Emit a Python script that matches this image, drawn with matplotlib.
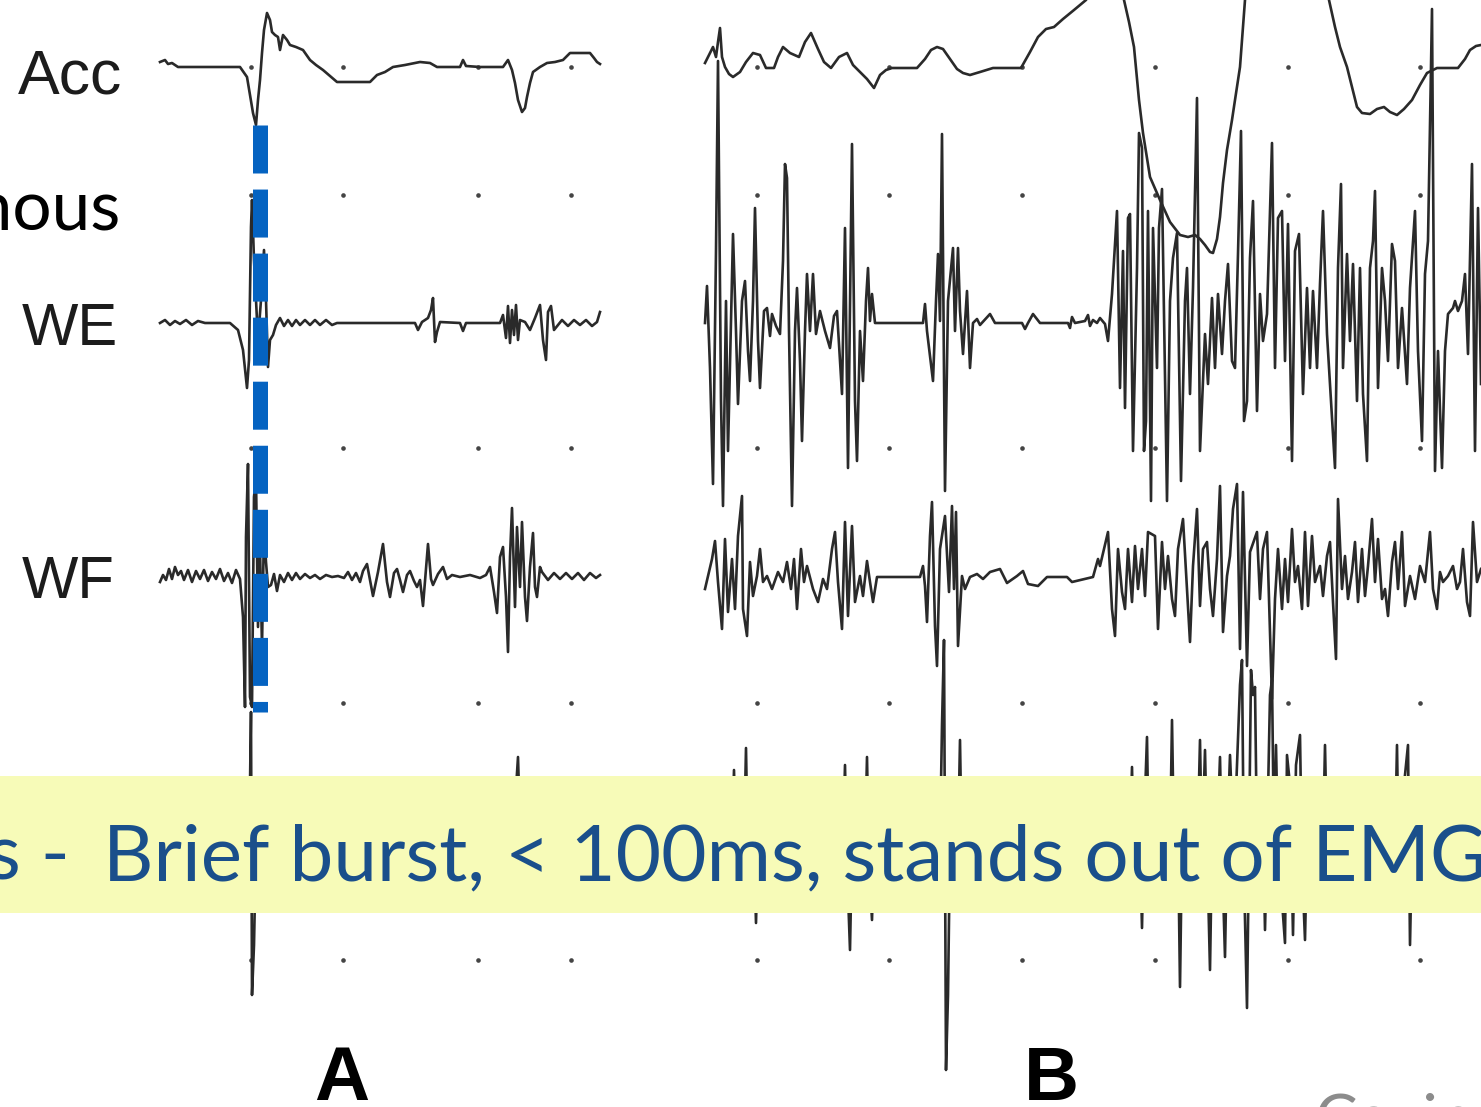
import matplotlib
matplotlib.use("Agg")
import matplotlib.pyplot as plt
from matplotlib.patches import Rectangle

W, H = 1481, 1107

# ---------------- data: (time, amplitude) samples ----------------
# Panel A
acc_a = [(160,5),(165,7),(168,3),(172,4),(178,0),(200,0),(240,0),(247,-10),(250,-28),(253,-46),
         (256,-58),(258,-33),(260,-13),(262,14),(264,37),(267,54),(270,47),(272,35),(275,32),(278,30),
         (280,17),(283,32),(287,27),(290,22),(296,20),(303,17),(310,7),(316,2),(323,-3),(330,-9),
         (337,-15),(350,-15),(370,-15),(377,-8),(385,-5),(393,0),(405,2),(420,5),(430,4),(437,0),
         (460,0),(463,7),(466,1),(480,0),(503,0),(508,7),(512,-3),(515,-16),(518,-33),(522,-45),
         (525,-41),(527,-30),(530,-16),(533,-5),(540,0),(547,4),(555,5),(563,7),(570,14),(580,14),
         (590,14),(594,9),(597,5),(600,3)]

we_a = [(160,0),(165,3),(170,-2),(175,2),(180,-1),(186,3),(192,-2),(198,2),(205,0),(230,0),(238,-7),
        (243,-27),(247,-65),(249,-37),(251,96),(252,123),(254,63),(256,23),(258,-17),(261,23),(264,73),
        (266,23),(268,-44),(270,-17),(273,-12),(276,-2),(280,5),(284,-3),(288,3),(292,-3),(296,3),
        (300,-2),(305,3),(310,-2),(315,3),(320,-2),(326,3),(332,-2),(337,0),(415,0),(418,-7),(422,1),
        (428,5),(431,13),(433,25),(435,-19),(437,-9),(440,1),(460,0),(463,-8),(466,0),(500,0),(503,8),
        (506,-15),(508,17),(510,-20),(512,13),(514,-12),(516,18),(518,-17),(520,3),(525,1),(530,-7),
        (535,5),(540,18),(543,-17),(546,-37),(548,11),(551,17),(554,-7),(558,-2),(562,3),(568,-3),
        (574,3),(580,-2),(586,3),(592,-3),(597,1),(600,11)]

wf_a = [(160,-5),(163,2),(166,-3),(169,8),(172,-2),(175,10),(178,2),(181,6),(184,-3),(188,7),(192,-5),
        (196,6),(200,-2),(204,7),(208,-4),(212,5),(216,-2),(220,8),(224,-4),(228,4),(232,-6),(236,7),
        (240,-2),(243,-40),(245,-130),(246,40),(248,113),(250,-120),(252,-130),(254,80),(256,100),
        (258,-50),(260,30),(262,-70),(264,50),(266,15),(268,-10),(271,-8),(274,3),(277,-14),(280,2),
        (284,-5),(288,4),(292,-3),(296,4),(300,-2),(305,3),(310,-1),(315,2),(320,-2),(326,2),(332,0),
        (338,1),(344,-1),(348,5),(352,-3),(356,4),(360,-5),(363,6),(367,13),(373,-19),(378,5),(383,33),
        (387,-5),(390,-20),(394,4),(397,8),(400,-3),(403,-15),(407,2),(410,6),(414,-4),(417,-10),
        (420,-3),(423,-29),(428,33),(431,-2),(433,-8),(438,3),(443,10),(447,-2),(452,2),(460,0),(470,2),
        (480,-1),(486,2),(490,10),(494,-15),(497,-36),(500,20),(503,30),(506,-20),(508,-75),(510,20),
        (512,69),(515,-30),(517,50),(520,-10),(522,55),(525,-20),(527,-44),(530,10),(533,44),(535,-10),
        (537,-20),(540,10),(542,5),(548,-3),(554,4),(560,-2),(566,4),(572,-2),(578,4),(584,-3),(590,4),
        (596,-1),(600,2)]

ch4_a = [(160,0),(248,0),(250,60),(251,133),(252,-150),(254,-100),(256,0),(512,0),(515,40),(518,88),
         (520,20),(523,-20),(526,0),(600,0)]

# Panel B
acc_b = [(705,4),(709,12),(713,20),(716,10),(718,25),(720,39),(722,10),(725,0),(729,-7),(733,-10),
         (740,-5),(746,5),(753,14),(760,12),(766,-1),(774,-1),(778,10),(783,20),(790,14),(799,10),
         (805,25),(811,34),(818,18),(824,5),(831,-1),(839,10),(847,14),(853,2),(860,-5),(867,-12),
         (874,-21),(880,-8),(886,-3),(892,-1),(905,-1),(917,-1),(925,8),(931,17),(937,20),(943,18),
         (950,8),(957,-2),(963,-6),(970,-8),(980,-5),(993,-1),(1005,-1),(1021,-1),(1030,15),(1038,30),
         (1046,38),(1054,40),(1063,48),(1074,57),(1086,67),(1100,90),(1112,110),(1120,85),(1124,67),
         (1129,45),(1134,20),(1139,-33),(1143,-66),(1150,-110),(1160,-133),(1170,-155),(1180,-168),
         (1188,-170),(1195,-168),(1200,-172),(1205,-178),(1210,-185),(1213,-186),(1217,-172),
         (1220,-150),(1223,-116),(1227,-83),(1232,-53),(1235,-33),(1240,0),(1245,67),(1250,100),
         (1258,130),(1270,140),(1290,140),(1310,125),(1322,100),(1329,67),(1335,40),(1340,20),(1347,0),
         (1352,-20),(1357,-40),(1362,-46),(1370,-47),(1377,-42),(1384,-40),(1390,-45),(1397,-48),
         (1404,-42),(1412,-33),(1420,-18),(1427,-6),(1437,-1),(1450,-1),(1458,-1),(1465,8),(1470,17),
         (1476,21),(1481,22)]

we_b = [(705,0),(707,37),(710,-45),(713,-161),(716,72),(718,262),(721,-78),(723,-183),(726,22),
        (728,-128),(733,89),(736,-8),(738,-81),(742,22),(745,42),(748,-28),(750,-58),(753,22),(755,115),
        (758,-18),(760,-65),(764,12),(767,15),(770,-13),(772,9),(776,-3),(780,-11),(783,62),(785,159),
        (787,145),(789,-8),(792,-183),(795,-8),(797,35),(800,-38),(802,-118),(805,-8),(807,49),(810,-8),
        (813,49),(816,-11),(820,12),(825,-8),(830,-25),(834,7),(837,12),(840,-38),(842,-71),(845,95),
        (848,-145),(852,179),(855,-78),(857,-138),(860,-8),(863,-58),(866,22),(868,55),(870,2),(872,29),
        (875,0),(923,0),(925,19),(927,-8),(933,-58),(936,22),(938,69),(940,2),(942,189),(945,-168),
        (948,22),(953,75),(955,-8),(958,75),(960,12),(963,-31),(967,32),(970,-45),(973,0),(977,4),
        (980,-2),(990,9),(995,0),(1022,0),(1025,-6),(1028,0),(1033,9),(1040,0),(1068,0),(1070,-5),
        (1072,6),(1075,0),(1085,2),(1088,8),(1090,-3),(1093,3),(1097,0),(1100,5),(1105,-1),(1108,-18),
        (1112,29),(1115,79),(1117,112),(1120,-65),(1123,72),(1125,-85),(1128,105),(1130,109),
        (1133,-128),(1137,55),(1139,190),(1142,175),(1144,-128),(1146,-98),(1148,112),(1151,-178),
        (1153,95),(1157,-45),(1159,95),(1162,134),(1167,-178),(1170,22),(1173,65),(1177,90),
        (1181,-158),(1185,22),(1187,55),(1190,-71),(1193,35),(1197,225),(1200,-128),(1205,-11),
        (1208,-61),(1212,25),(1215,-45),(1218,29),(1222,-31),(1225,22),(1228,59),(1232,-38),(1235,-45),
        (1238,69),(1241,192),(1244,-98),(1247,-78),(1250,65),(1253,122),(1257,-88),(1260,29),(1263,-18),
        (1267,9),(1272,180),(1275,-45),(1278,105),(1282,112),(1285,-38),(1288,99),(1292,-138),(1295,72),
        (1299,89),(1303,-71),(1307,35),(1310,-45),(1313,32),(1317,-45),(1320,39),(1323,112),(1327,-11),
        (1330,-61),(1335,-145),(1338,55),(1341,139),(1343,-45),(1347,69),(1350,-18),(1353,59),
        (1357,-78),(1360,55),(1363,-71),(1367,-138),(1370,55),(1373,82),(1375,132),(1378,-65),(1382,55),
        (1385,22),(1388,-38),(1392,79),(1395,62),(1398,-45),(1402,15),(1407,-61),(1410,35),(1415,112),
        (1418,-28),(1422,-118),(1425,49),(1428,82),(1432,314),(1435,-148),(1438,-28),(1442,-145),
        (1445,-28),(1448,9),(1453,15),(1455,22),(1458,12),(1462,22),(1465,49),(1468,-31),(1472,159),
        (1475,-128),(1478,115),(1481,-61)]

wf_b = [(705,-12),(708,1),(712,18),(715,36),(718,-5),(722,-52),(725,38),(728,-35),(732,18),(735,-32),
        (738,41),(742,81),(743,-32),(747,-59),(750,15),(753,-19),(757,1),(760,28),(763,-5),(767,1),
        (772,-12),(778,5),(783,-5),(787,15),(791,-12),(794,18),(797,-32),(801,28),(804,-5),(807,11),
        (813,-12),(818,-25),(823,-2),(827,-12),(832,28),(835,45),(838,-5),(842,-52),(845,55),(848,-39),
        (852,51),(855,-25),(860,1),(863,-19),(867,16),(870,-5),(873,-25),(877,0),(920,0),(923,11),
        (925,-9),(927,-45),(930,41),(932,75),(935,-49),(937,-89),(940,28),(945,61),(949,-15),(952,71),
        (954,-12),(956,65),(958,-69),(962,1),(965,-12),(970,0),(977,3),(983,-2),(990,5),(1000,8),
        (1007,-6),(1017,1),(1023,6),(1028,-7),(1038,-9),(1047,0),(1067,0),(1072,-5),(1093,0),(1098,18),
        (1100,11),(1108,45),(1112,-32),(1115,-59),(1118,28),(1122,-15),(1125,-32),(1128,28),(1132,-25),
        (1135,31),(1138,-12),(1142,28),(1145,-19),(1148,45),(1155,41),(1158,-52),(1162,35),(1165,-12),
        (1168,21),(1172,-22),(1175,-39),(1178,28),(1183,58),(1187,-12),(1190,-65),(1193,11),(1197,68),
        (1200,-29),(1203,28),(1207,35),(1210,-12),(1213,-39),(1217,18),(1220,91),(1223,-55),(1227,1),
        (1230,21),(1233,68),(1237,93),(1240,-72),(1243,85),(1247,-89),(1250,25),(1257,45),(1260,-22),
        (1263,28),(1267,45),(1272,-122),(1275,-22),(1278,28),(1282,-32),(1285,18),(1288,-25),(1292,48),
        (1295,-5),(1298,11),(1302,-32),(1305,45),(1308,-29),(1312,41),(1315,-5),(1320,11),(1323,-19),
        (1327,21),(1330,35),(1333,-25),(1336,-82),(1338,78),(1342,-12),(1345,21),(1348,-22),(1352,5),
        (1355,35),(1358,-25),(1362,28),(1365,-19),(1368,11),(1372,58),(1375,-5),(1378,38),(1382,-22),
        (1385,-12),(1388,-39),(1392,15),(1395,35),(1398,-12),(1402,45),(1405,-29),(1410,1),(1415,-22),
        (1420,11),(1425,-5),(1430,45),(1433,-12),(1437,-32),(1440,5),(1443,-5),(1448,1),(1453,11),
        (1457,-12),(1460,-5),(1463,28),(1467,-25),(1470,-39),(1473,55),(1477,-5),(1481,8)]

ch4_b = [(705,0),(732,0),(734,75),(736,-10),(744,0),(746,97),(748,-20),(754,0),(756,-78),(758,0),
         (843,0),(845,80),(847,-20),(850,-105),(852,0),(865,0),(867,88),(869,-20),(872,-75),(874,0),
         (940,0),(942,120),(944,205),(946,-225),(948,-150),(950,0),(958,0),(960,105),(962,-20),(964,0),
         (1130,0),(1132,78),(1134,-20),(1140,0),(1142,-83),(1144,20),(1147,108),(1149,-20),(1152,0),
         (1170,0),(1172,125),(1174,0),(1178,10),(1180,-142),(1182,0),(1198,20),(1200,105),(1202,-10),
         (1205,95),(1207,0),(1210,-125),(1212,0),(1218,30),(1220,88),(1222,-10),(1225,-112),(1227,0),
         (1230,90),(1232,40),(1234,0),(1240,160),(1242,185),(1244,-30),(1247,-163),(1249,0),(1251,175),
         (1253,150),(1255,158),(1257,0),(1263,20),(1265,-85),(1267,0),(1270,150),(1272,165),(1274,0),
         (1276,100),(1278,0),(1285,-98),(1287,90),(1290,60),(1293,-90),(1296,80),(1300,110),(1302,-20),
         (1305,-95),(1307,0),(1323,0),(1325,100),(1327,0),(1395,0),(1397,100),(1399,-30),(1404,60),
         (1408,100),(1410,-100),(1412,0),(1481,0)]

channel_labels = ["Acc", "WE", "WF"]
panel_labels = ["A", "B"]
banner_prefix = "s -"
banner_text = "Brief burst, < 100ms, stands out of EMG"
side_word = "Synchronous"
credit_text = "Caviness"

grid_rows = [67, 195, 448, 703, 960]
grid_cols_a = [251, 343, 478, 571]
grid_cols_b = [757, 889, 1022, 1155, 1288, 1420]

# ---------------- drawing ----------------
TRACE = "#2a2a2a"
BASE = {"acc": 67, "we": 323, "wf": 577, "ch4": 845}

fig = plt.figure(figsize=(W / 100, H / 100), dpi=100)
fig.patch.set_facecolor("white")
ax = fig.add_axes([0, 0, 1, 1])
ax.set_xlim(0, W)
ax.set_ylim(H, 0)
ax.axis("off")


def draw(trace, base, lw=1.9):
    t = [p[0] for p in trace]
    v = [base - p[1] for p in trace]
    ax.plot(t, v, color=TRACE, lw=lw, zorder=2, solid_joinstyle="round")


for tr, key in [(acc_a, "acc"), (we_a, "we"), (wf_a, "wf"), (ch4_a, "ch4"),
                (acc_b, "acc"), (we_b, "we"), (wf_b, "wf"), (ch4_b, "ch4")]:
    draw(tr, BASE[key])

gx, gy = [], []
for r in grid_rows:
    for c in grid_cols_a + grid_cols_b:
        gx.append(c)
        gy.append(r)
ax.scatter(gx, gy, s=11, color="#444444", zorder=1, linewidths=0)

# blue dashed marker line
ax.plot([260, 260], [125, 712], color="#0563C1", lw=10.8,
        linestyle=(0, (3.2, 1.07)), dash_capstyle="butt", solid_capstyle="butt", zorder=4)

# channel labels
lab_font = ["Liberation Sans", "DejaVu Sans"]
ax.text(18, 93, channel_labels[0], fontsize=45, family=lab_font, color="#1c1c1c", va="baseline", ha="left")
ax.text(22, 345, channel_labels[1], fontsize=43, family=lab_font, color="#1c1c1c", va="baseline", ha="left")
ax.text(22, 598, channel_labels[2], fontsize=43, family=lab_font, color="#1c1c1c", va="baseline", ha="left")

ax.text(121, 230, side_word, fontsize=50, family=["Lato", "DejaVu Sans"], color="black",
        va="baseline", ha="right")

ax.text(342, 1100, panel_labels[0], fontsize=55, family=lab_font, weight="bold", color="black",
        va="baseline", ha="center")
ax.text(1051, 1100, panel_labels[1], fontsize=55, family=lab_font, weight="bold", color="black",
        va="baseline", ha="center")

ax.text(1315, 1140, credit_text, fontsize=46, family=["Lato", "DejaVu Sans"], color="#8c8c8c",
        va="baseline", ha="left")

# banner
ax.add_patch(Rectangle((0, 776), W, 137, facecolor="#F7FBB8", edgecolor="none", zorder=5))
BLUE = "#1A4F8B"
fig.canvas.draw()
rend = fig.canvas.get_renderer()
t_main = ax.text(103, 880, banner_text, fontsize=60, family=["Lato", "DejaVu Sans"], color=BLUE,
                 va="baseline", ha="left", zorder=6)
wmain = t_main.get_window_extent(rend).width
fs = 60 * 1387 / wmain
t_main.set_fontsize(fs)
ax.text(70, 880, banner_prefix, fontsize=fs, family=["Lato", "DejaVu Sans"], color=BLUE,
        va="baseline", ha="right", zorder=6)

fig.savefig("out.png", dpi=100, facecolor="white")
